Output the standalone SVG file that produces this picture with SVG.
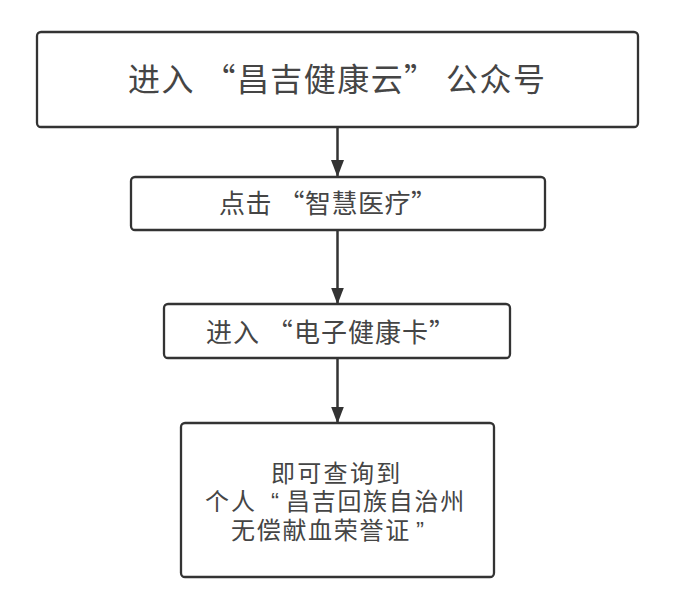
<svg xmlns="http://www.w3.org/2000/svg" width="675" height="611" viewBox="0 0 675 611">
  <style>
    .box { fill: #ffffff; stroke: #333333; stroke-width: 2.3; }
    .lbl { font-family: "Noto Sans CJK SC", "Noto Sans", sans-serif; fill: #454545; }
    .lbl4 { font-family: "Liberation Sans", "Noto Sans CJK SC", sans-serif; fill: #454545; font-size: 24px; }
    .conn { stroke: #333333; stroke-width: 2.5; fill: none; }
  </style>
  <defs>
    <marker id="ah" viewBox="0 0 17 13" refX="16" refY="6.5" markerWidth="17" markerHeight="13" markerUnits="userSpaceOnUse" orient="auto">
      <path d="M0,0 L17,6.5 L0,13 Z" fill="#333333"/>
    </marker>
  </defs>
  <rect width="675" height="611" fill="#ffffff"/>

  <g id="connectors">
    <line class="conn" x1="337.5" y1="127" x2="337.5" y2="176" marker-end="url(#ah)"/>
    <line class="conn" x1="337.5" y1="230" x2="337.5" y2="303.5" marker-end="url(#ah)"/>
    <line class="conn" x1="337.5" y1="358" x2="337.5" y2="422.5" marker-end="url(#ah)"/>
  </g>

  <g id="node1">
    <rect class="box" x="37" y="32" width="601" height="95" rx="4"/>
    <text class="lbl" x="128" y="90.5" font-size="32" textLength="417" lengthAdjust="spacing">进入 “昌吉健康云” 公众号</text>
  </g>

  <g id="node2">
    <rect class="box" x="131" y="177" width="414" height="53" rx="4"/>
    <text class="lbl" x="219" y="213" font-size="26" textLength="218" lengthAdjust="spacing">点击 “智慧医疗”</text>
  </g>

  <g id="node3">
    <rect class="box" x="164" y="304" width="346" height="54" rx="4"/>
    <text class="lbl" x="206" y="342" font-size="26" textLength="249" lengthAdjust="spacing">进入 “电子健康卡”</text>
  </g>

  <g id="node4">
    <rect class="box" x="181" y="423" width="313" height="154" rx="4"/>
    <text class="lbl4" x="271" y="481.5" letter-spacing="2.3">即可查询到</text>
    <text class="lbl4" y="510"><tspan x="205" letter-spacing="2">个人 </tspan><tspan x="271">“</tspan><tspan x="286" letter-spacing="1.7">昌吉回族自治州</tspan></text>
    <text class="lbl4" y="538.5"><tspan x="231" letter-spacing="1.7">无偿献血荣誉证</tspan><tspan x="416">”</tspan></text>
  </g>
</svg>
